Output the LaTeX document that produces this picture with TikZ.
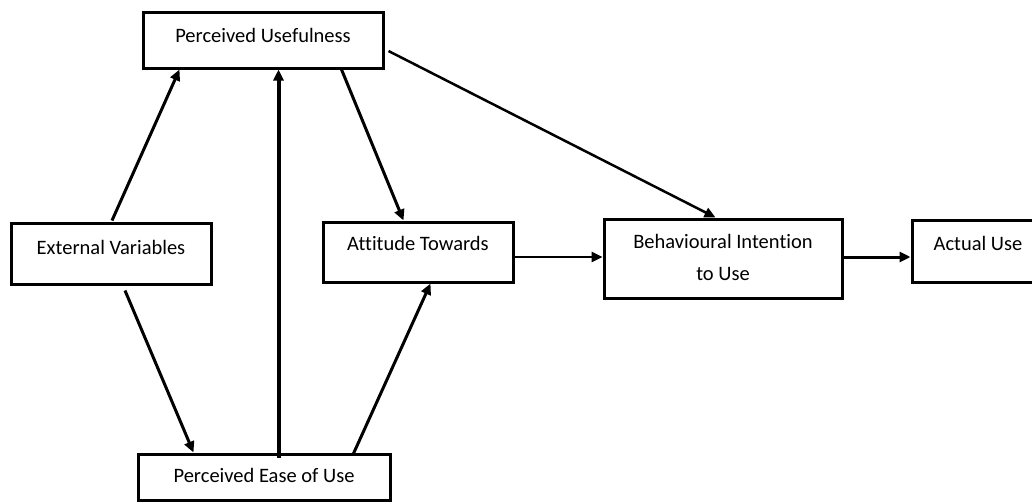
\documentclass[tikz,border=0pt]{standalone}
\usepackage{fontspec}
\setmainfont[Ligatures={NoCommon}]{Carlito}
\usetikzlibrary{arrows.meta,calc}
\begin{document}
\begin{tikzpicture}[x=1pt,y=-1pt,
  box/.style={draw=black, line width=3pt, rectangle, inner sep=0pt,
    font=\fontsize{20.5}{32}\selectfont, text height=14pt, align=center},
  arr/.style={line width=3pt, -{Triangle[length=11pt,width=10pt]}},
  thinarr/.style={line width=2.5pt, -{Triangle[length=11pt,width=10pt]}},
]
\useasboundingbox (0,0) rectangle (1032,503);
\fill[white] (0,0) rectangle (1032,503);
\clip (0,0) rectangle (1032,503);

\node[box, minimum width=240pt, minimum height=55pt, text depth=9pt] (pu) at (263,40.5) {Perceived Usefulness};
\node[box, minimum width=200pt, minimum height=61pt, text depth=13pt] (ev) at (111,253.5) {External Variables};
\node[box, minimum width=190pt, minimum height=60pt, text depth=18pt] (at) at (418,252) {Attitude Towards};
\node[box, minimum width=238pt, minimum height=79pt, text height=46pt, text depth=3pt] (bi) at (723,258.5) {Behavioural Intention\\to Use};
\node[box, minimum width=132pt, minimum height=62pt, text depth=16pt] (au) at (978,251) {Actual Use};
\node[box, minimum width=252pt, minimum height=46pt, text depth=2.6pt] (peu) at (264,477) {Perceived Ease of Use};

% External Variables -> Perceived Usefulness
\draw[arr] ($(ev.north)+(1,-1)$) -- ($(pu.south west)+(38,0)$);
% External Variables -> Perceived Ease of Use
\draw[arr] ($(ev.south)+(14,5)$) -- ($(peu.north west)+(57,0)$);
% Perceived Ease of Use -> Perceived Usefulness
\draw[arr, line width=4pt] ($(peu.north west)+(142,5)$) -- ($(pu.south west)+(137,0)$);
% Perceived Ease of Use -> Attitude Towards
\draw[arr] ($(peu.north west)+(217,1)$) -- ($(at.south west)+(109,0)$);
% Perceived Usefulness -> Attitude Towards
\draw[arr] ($(pu.south west)+(200,0)$) -- ($(at.north west)+(82,0)$);
% Perceived Usefulness -> Behavioural Intention
\draw[thinarr] ($(pu.east)+(4,10.5)$) -- ($(bi.north west)+(113,0)$);
% Attitude Towards -> Behavioural Intention
\draw[thinarr] ($(at.east)+(0,5)$) -- ($(bi.west)+(0,-1.5)$);
% Behavioural Intention -> Actual Use
\draw[arr] ($(bi.east)+(0,-1.5)$) -- ($(au.west)+(0,6)$);
\end{tikzpicture}
\end{document}
